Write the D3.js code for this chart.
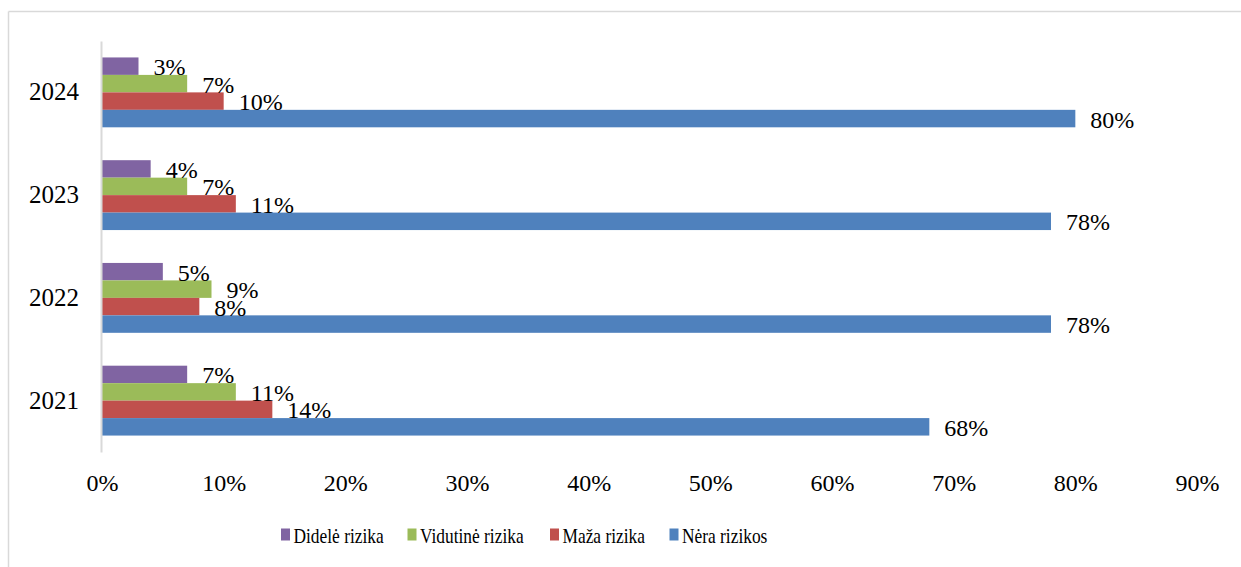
<!DOCTYPE html>
<html>
<head>
<meta charset="utf-8">
<script src="https://cdn.jsdelivr.net/npm/d3@7"></script>
<style>
  html, body { margin: 0; padding: 0; background: #fff; }
  svg { display: block; }
  text { font-family: "Liberation Serif", "Times New Roman", serif; fill: #000; }
</style>
</head>
<body>
<svg id="chart" width="1241" height="567"></svg>
<script>
// Risk level shares by year
const years = ["2021", "2022", "2023", "2024"];
const seriesNames = ["Didelė rizika", "Vidutinė rizika", "Maža rizika", "Nėra rizikos"];
const seriesColors = ["#8064A2", "#9BBB59", "#C0504D", "#4F81BD"];
const didele = [7, 5, 4, 3];
const vidutine = [11, 9, 7, 7];
const maza = [14, 8, 11, 10];
const nera = [68, 78, 78, 80];
const tickValues = [0, 10, 20, 30, 40, 50, 60, 70, 80, 90];

const seriesValues = [didele, vidutine, maza, nera];

const svg = d3.select("#chart");
const W = 1241, H = 567;

// Chart area frame (top and left edges)
svg.append("line").attr("x1", 8.5).attr("x2", W).attr("y1", 11.5).attr("y2", 11.5)
  .attr("stroke", "#d9d9d9").attr("stroke-width", 1.5);
svg.append("line").attr("x1", 8.5).attr("x2", 8.5).attr("y1", 11.5).attr("y2", H)
  .attr("stroke", "#d9d9d9").attr("stroke-width", 1.5);

const x = d3.scaleLinear().domain([0, 90]).range([102, 1197]);

// Years from bottom (2021) to top (2024)
const y = d3.scaleBand().domain(years.slice().reverse())
  .range([41, 452]).paddingInner(0.32).paddingOuter(0.16);

// Series inside each band: Didelė on top, Nėra at bottom
const ySub = d3.scaleBand().domain(seriesNames).range([0, y.bandwidth()]);

const groups = svg.append("g").selectAll("g")
  .data(years)
  .join("g")
  .attr("transform", d => `translate(0,${y(d)})`);

groups.each(function(year, yi) {
  const g = d3.select(this);
  seriesNames.forEach((name, si) => {
    const v = seriesValues[si][yi];
    g.append("rect")
      .attr("x", x(0))
      .attr("y", ySub(name))
      .attr("width", x(v) - x(0))
      .attr("height", ySub.bandwidth())
      .attr("fill", seriesColors[si]);
  });
  seriesNames.forEach((name, si) => {
    const v = seriesValues[si][yi];
    g.append("text")
      .attr("x", x(v) + 15)
      .attr("y", ySub(name) + ySub.bandwidth() / 2 + 9)
      .attr("font-size", 24)
      .text(v + "%");
  });
});

// Category axis (left)
const yAxis = svg.append("g").attr("transform", `translate(${x(0) - 1},0)`)
  .call(d3.axisLeft(y).tickSize(0).tickPadding(22));
yAxis.select(".domain").attr("stroke", "#d9d9d9").attr("stroke-width", 2);
yAxis.selectAll("text")
  .attr("font-size", 25)
  .attr("font-family", "Liberation Serif, serif")
  .attr("dy", "0.32em")
  .attr("fill", "#000");

// Value axis (bottom), labels only
const xAxis = svg.append("g").attr("transform", `translate(0,452)`)
  .call(d3.axisBottom(x).tickValues(tickValues).tickSize(0).tickPadding(22)
    .tickFormat(d => d + "%"));
xAxis.select(".domain").remove();
xAxis.selectAll("text")
  .attr("font-size", 24)
  .attr("font-family", "Liberation Serif, serif")
  .attr("dy", "0.71em")
  .attr("fill", "#000");

// Legend
const legendX = [281, 407.5, 550, 669.5];
const legend = svg.append("g");
seriesNames.forEach((name, i) => {
  legend.append("rect")
    .attr("x", legendX[i]).attr("y", 528.5)
    .attr("width", 9).attr("height", 12)
    .attr("fill", seriesColors[i]);
  legend.append("text")
    .attr("transform", `translate(${legendX[i] + 12.5},542.5) scale(0.79,1)`)
    .attr("font-size", 22)
    .text(name);
});
</script>
</body>
</html>
